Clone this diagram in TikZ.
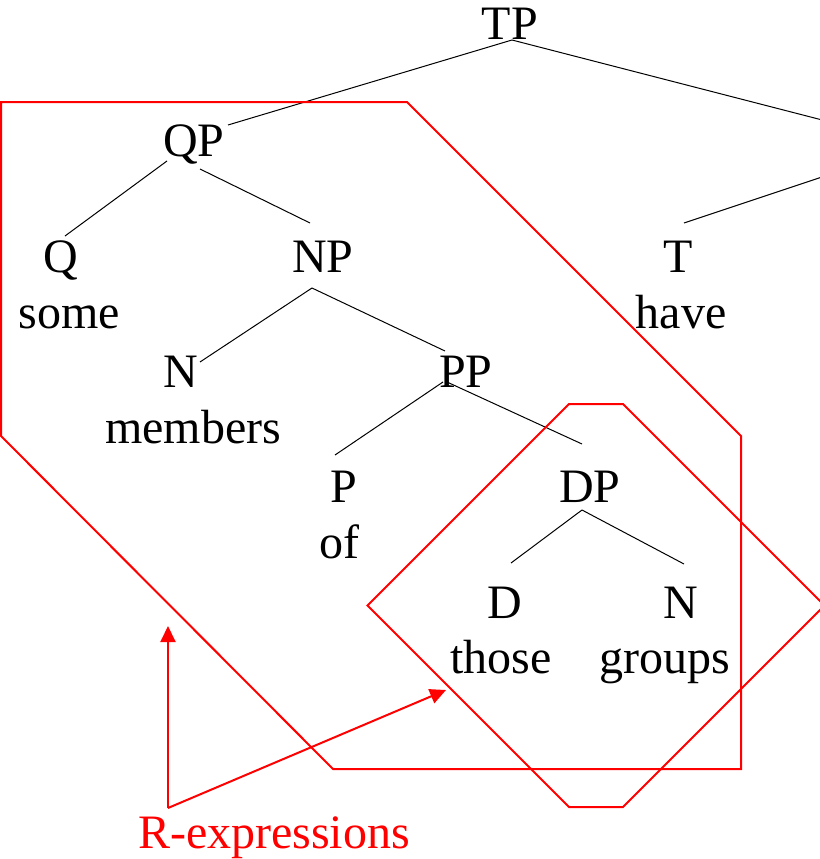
\documentclass[tikz,border=0pt]{standalone}
\usepackage{fontspec}
\setmainfont{Liberation Serif}
\usetikzlibrary{calc,arrows.meta}
\begin{document}
\begin{tikzpicture}[x=1pt,y=-1pt,
  lab/.style={anchor=base,inner sep=0pt,font=\fontsize{48}{53}\selectfont},
  edge/.style={draw=black,line width=1pt},
  region/.style={draw=red,line width=2pt,line join=miter},
  rarrow/.style={draw=red,line width=2pt,-{Triangle[length=16pt,width=15pt]}}]
\useasboundingbox (0,0) rectangle (819,859);
% labels
\node[lab] (TP) at (510,40) {TP};
\node[lab] (QP) at (194,156) {QP};
\node[lab] (Q) at (61,272) {Q};
\node[lab] (some) at (69,328) {some};
\node[lab] (NP) at (323,272) {NP};
\node[lab] (T) at (678,272) {T};
\node[lab] (have) at (681,328) {have};
\node[lab] (N1) at (181,387) {N};
\node[lab] (members) at (193,443) {members};
\node[lab] (PP) at (466,387) {PP};
\node[lab] (P) at (344,502) {P};
\node[lab] (of) at (339,558) {of};
\node[lab] (DP) at (590,502) {DP};
\node[lab] (D) at (505,618) {D};
\node[lab] (those) at (501,673) {those};
\node[lab] (N2) at (681,618) {N};
\node[lab] (groups) at (665,673) {groups};
\node[lab,text=red] (R) at (274,848) {R-expressions};
% off-picture branch ends
\coordinate (TPright) at (830,122);
\coordinate (Tright) at (830,174.3);
% tree edges
\draw[edge] ($(TP.base)+(2,0)$) -- ($(QP.base)+(34,-31)$);
\draw[edge] ($(TP.base)+(2,0)$) -- (TPright);
\draw[edge] ($(T.base)+(6,-49)$) -- (Tright);
\draw[edge] ($(QP.base)+(-27,5)$) -- ($(Q.base)+(4,-36)$);
\draw[edge] ($(QP.base)+(6,13)$) -- ($(NP.base)+(-13,-49)$);
\draw[edge] ($(NP.base)+(-11,16)$) -- ($(N1.base)+(19,-25)$);
\draw[edge] ($(NP.base)+(-11,16)$) -- ($(PP.base)+(-21,-36)$);
\draw[edge] ($(PP.base)+(-23,-5)$) -- ($(P.base)+(-9,-47)$);
\draw[edge] ($(PP.base)+(-19,-5)$) -- ($(DP.base)+(-8,-58)$);
\draw[edge] ($(DP.base)+(-8,8)$) -- ($(D.base)+(6,-55)$);
\draw[edge] ($(DP.base)+(-8,8)$) -- ($(N2.base)+(3,-54)$);
% red regions
\draw[region] (1,102) -- (407,102) -- (741,436) -- (741,769) -- (333,769) -- (1,436) -- cycle;
\draw[region] (569,404) -- (623,404) -- (824.5,605.5) -- (623,807) -- (569,807) -- (367.5,605.5) -- cycle;
% arrows
\coordinate (src) at (168,808);
\coordinate (tipA) at (168,626);
\coordinate (tipB) at (446,690);
\draw[rarrow] (src) -- (tipA);
\draw[rarrow] (src) -- (tipB);
\end{tikzpicture}
\end{document}
